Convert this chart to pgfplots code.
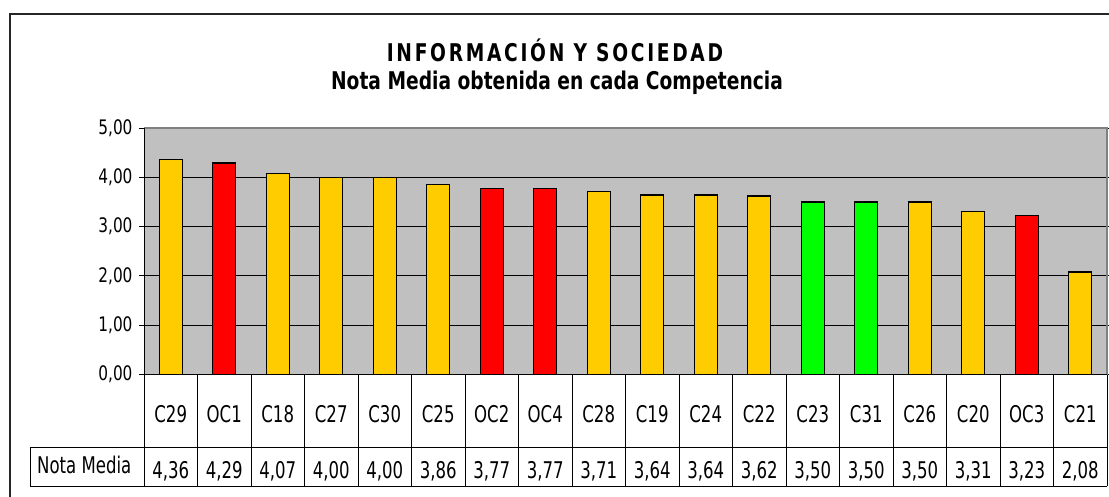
\documentclass[border=0pt]{standalone}
\usepackage{pgfplots}
\pgfplotsset{compat=1.18}
\usepackage{fontspec}
\setmainfont{DejaVu Sans Condensed}
\newfontfamily\tabfont[FakeStretch=0.8]{DejaVu Sans Condensed}
\newfontfamily\tickfont[FakeStretch=0.85]{DejaVu Sans Condensed}
\newfontfamily\titlefont[FakeStretch=0.85]{DejaVu Sans Condensed}
\newfontfamily\titlefontsp[FakeStretch=0.85,LetterSpace=11]{DejaVu Sans Condensed}
\definecolor{cyel}{HTML}{FFCC00}
\definecolor{cred}{HTML}{FF0000}
\definecolor{cgrn}{HTML}{00FF00}
\definecolor{cgray}{HTML}{C0C0C0}
\begin{document}
\begin{tikzpicture}
\clip (0,0) rectangle (1109pt,-497pt);
\fill[white] (0,0) rectangle (1109pt,-497pt);
\draw[line width=1.5pt, black!85] (10pt,-520pt) -- (10pt,-14pt) -- (1130pt,-14pt);
\node[font=\titlefontsp\bfseries\fontsize{24.4}{24.4}\selectfont] at (555pt,-50pt) {INFORMACIÓN Y SOCIEDAD};
\node[font=\titlefont\bfseries\fontsize{24.4}{24.4}\selectfont] at (557pt,-83pt) {Nota Media obtenida en cada Competencia};
\begin{axis}[
  at={(144pt,-374.5pt)}, anchor=south west,
  scale only axis, width=963pt, height=246.5pt,
  xmin=-0.5, xmax=17.5, ymin=0, ymax=5,
  ybar, bar width=23pt, bar shift=0pt,
  axis background/.style={fill=cgray},
  axis line style={draw=none},
  ytick={0,1,2,3,4,5},
  ymajorgrids, grid style={black, line width=1pt},
  tick align=outside, major tick length=5pt,
  ytick style={black, line width=1pt},
  xtick style={draw=none},
  yticklabel style={/pgf/number format/fixed, /pgf/number format/fixed zerofill, /pgf/number format/precision=2, /pgf/number format/use comma, /pgf/number format/assume math mode=true},
  yticklabel style={font=\tickfont\fontsize{20}{20}\selectfont, xshift=-3pt},
  xtick={0,...,17},
  xticklabels={C29,OC1,C18,C27,C30,C25,OC2,OC4,C28,C19,C24,C22,C23,C31,C26,C20,OC3,C21},
  xticklabel style={font=\tabfont\fontsize{23}{23}\selectfont, anchor=base, yshift=-43pt},
  extra x ticks={0,...,17},
  extra x tick labels={{4,36},{4,29},{4,07},{4,00},{4,00},{3,86},{3,77},{3,77},{3,71},{3,64},{3,64},{3,62},{3,50},{3,50},{3,50},{3,31},{3,23},{2,08}},
  extra x tick style={xticklabel style={yshift=-55.5pt}},
  clip=false,
]
\addplot[fill=cyel, draw=black, line width=1.2pt] coordinates {(0,4.36)(2,4.07)(3,4.00)(4,4.00)(5,3.86)(8,3.71)(9,3.64)(10,3.64)(11,3.62)(14,3.50)(15,3.31)(17,2.08)};
\addplot[fill=cred, draw=black, line width=1.2pt] coordinates {(1,4.29)(6,3.77)(7,3.77)(16,3.23)};
\addplot[fill=cgrn, draw=black, line width=1.2pt] coordinates {(12,3.50)(13,3.50)};
\draw[black!50, line width=1.2pt] (rel axis cs:0,1) -- (rel axis cs:1,1) -- (rel axis cs:1,0);
\draw[black, line width=1pt] (rel axis cs:0,1) -- (rel axis cs:0,0) -- (rel axis cs:1,0);
\end{axis}
\draw[black, line width=1pt] (30pt,-447pt) -- (1107pt,-447pt);
\draw[black, line width=1pt] (30pt,-486pt) -- (1107pt,-486pt);
\draw[black, line width=1pt] (30pt,-447pt) -- (30pt,-486pt);
\foreach \i in {0,...,18} \draw[black, line width=1pt] (144pt+\i*53.5pt,-374.5pt) -- ++(0,-111.5pt);
\node[font=\tabfont\fontsize{23}{23}\selectfont, anchor=base west, inner sep=0pt] at (37pt,-473pt) {Nota Media};
\end{tikzpicture}
\end{document}
